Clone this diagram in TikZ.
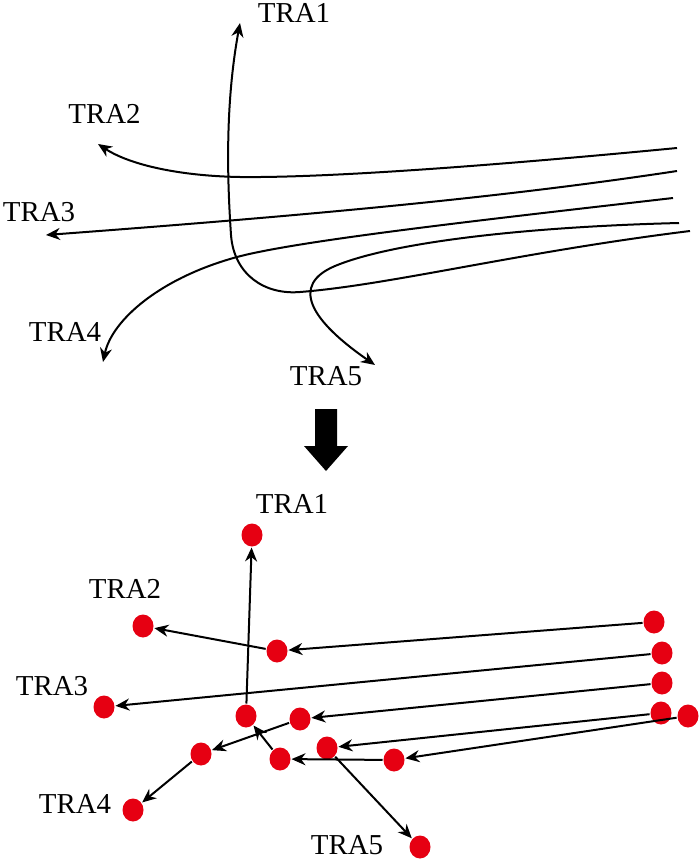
\documentclass[tikz,border=0pt]{standalone}
\usepackage{fontspec}
\setmainfont{Liberation Serif}
\usetikzlibrary{arrows.meta,shapes.geometric}
\definecolor{dotred}{RGB}{230,0,18}

\begin{document}
\begin{tikzpicture}
  [x=1bp,y=-1bp,line width=2bp,
   arr/.style={-{Stealth[length=14bp,width=12bp,inset=4.5bp]}},
   reddot/.style={ellipse,fill=dotred,minimum width=21bp,minimum height=23bp,inner sep=0pt},
   lbl/.style={inner sep=0pt,font=\fontsize{29}{34}\selectfont}]
  \useasboundingbox (0,0) rectangle (700,861);
  % upper sketch
  \node[lbl] (ta1) at (294,13) {TRA1};
  \node[lbl] (ta2) at (104.5,114) {TRA2};
  \node[lbl] (ta3) at (39,212) {TRA3};
  \node[lbl] (ta4) at (65,332) {TRA4};
  \node[lbl] (ta5) at (326,376) {TRA5};
  \coordinate (u1) at (690,231);
  \coordinate (u2) at (677,148);
  \coordinate (u3) at (677,171);
  \coordinate (u4) at (673,198);
  \coordinate (u5) at (679,223);
  \coordinate (v1) at (240,23);
  \coordinate (v2) at (98,144);
  \coordinate (v3) at (46,235);
  \coordinate (v4) at (103,362);
  \coordinate (v5) at (375,365);
  \draw[arr] (u1) .. controls (520,252) and (390,285) .. (300,292)
    .. controls (265,295) and (234,275) .. (231,235)
    .. controls (228,190) and (224,110) .. (v1);
  \draw[arr] (u2) .. controls (500,165) and (330,178) .. (240,177)
    .. controls (180,176) and (130,165) .. (v2);
  \draw[arr] (u3) .. controls (500,198) and (300,216) .. (v3);
  \draw[arr] (u4) .. controls (500,218) and (300,240) .. (237,257)
    .. controls (160,278) and (112,320) .. (v4);
  \draw[arr] (u5) .. controls (520,227) and (390,243) .. (335,266)
    .. controls (290,285) and (310,320) .. (v5);
  % big arrow
  \fill (315,409) -- (337,409) -- (337,446) -- (348,446) -- (326,471)
    -- (304,446) -- (315,446) -- cycle;
  % lower graph
  \node[lbl] (ba1) at (292,504) {TRA1};
  \node[lbl] (ba2) at (125,589) {TRA2};
  \node[lbl] (ba3) at (52,686.5) {TRA3};
  \node[lbl] (ba4) at (75,804) {TRA4};
  \node[lbl] (ba5) at (347,845) {TRA5};
  \node[reddot] (e1) at (252,535) {};
  \node[reddot] (e2) at (143,626) {};
  \node[reddot] (e3) at (104,707) {};
  \node[reddot] (e4) at (133,810) {};
  \node[reddot] (e5) at (420,847) {};
  \node[reddot] (s1) at (654,622) {};
  \node[reddot] (s2) at (662,653) {};
  \node[reddot] (s3) at (662,683) {};
  \node[reddot] (s4) at (661,713) {};
  \node[reddot] (s5) at (688,716) {};
  \node[reddot] (m1) at (246,716) {};
  \node[reddot] (m2) at (277,651) {};
  \node[reddot] (m3) at (300,719) {};
  \node[reddot] (m4) at (201,754) {};
  \node[reddot] (m5) at (327,748) {};
  \node[reddot] (k1) at (394,760) {};
  \node[reddot] (k2) at (280,759) {};
  \foreach \from/\to in {s1/m2,m2/e2,s2/e3,s3/m3,m3/m4,m4/e4,s4/m5,m5/e5,s5/k1,k1/k2,k2/m1,m1/e1}
    \draw[arr] (\from) -- (\to);
\end{tikzpicture}
\end{document}
